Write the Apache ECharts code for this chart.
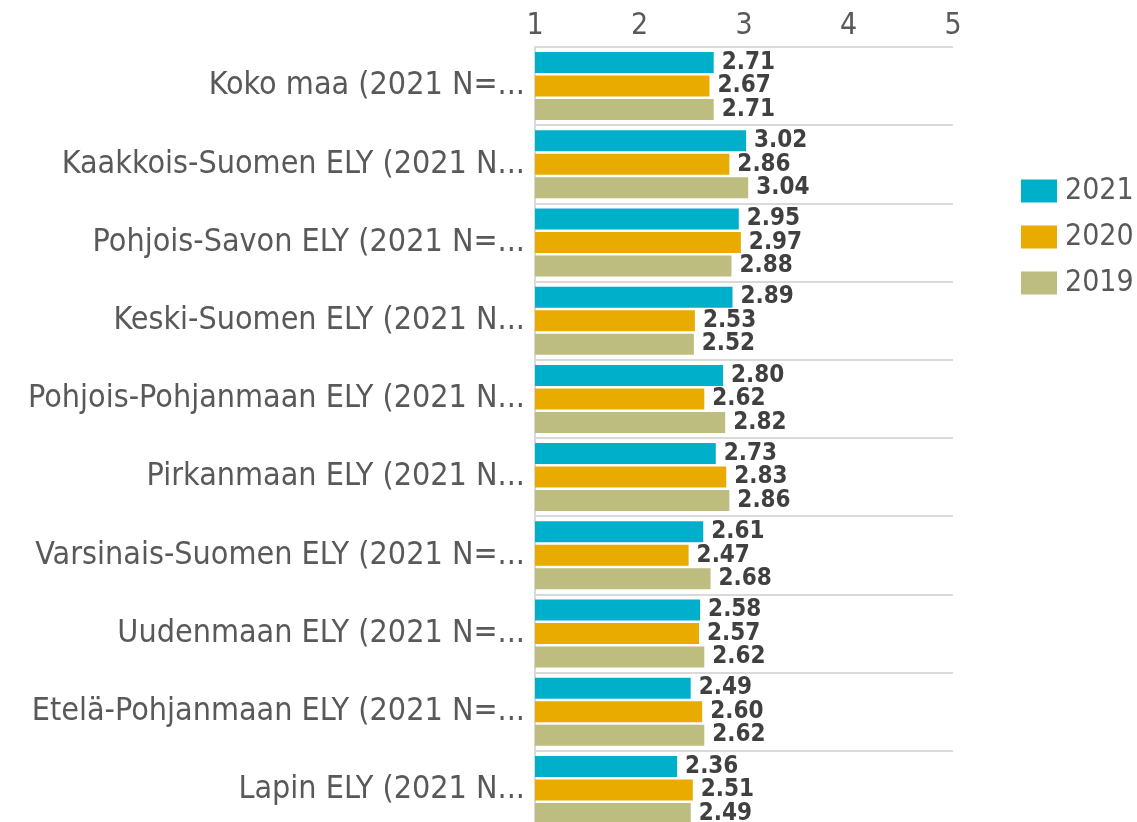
<!DOCTYPE html>
<html>
<head>
<meta charset="utf-8">
<script src="https://cdn.jsdelivr.net/npm/echarts@6/dist/echarts.min.js"></script>
<style>
  html, body { margin: 0; padding: 0; background: #fff; overflow: hidden; }
  #chart { width: 1137px; height: 829px; }
</style>
</head>
<body>
<div id="chart"></div>
<script>
const categories = [
  'Koko maa (2021 N=...',
  'Kaakkois-Suomen ELY (2021 N...',
  'Pohjois-Savon ELY (2021 N=...',
  'Keski-Suomen ELY (2021 N...',
  'Pohjois-Pohjanmaan ELY (2021 N...',
  'Pirkanmaan ELY (2021 N...',
  'Varsinais-Suomen ELY (2021 N=...',
  'Uudenmaan ELY (2021 N=...',
  'Etelä-Pohjanmaan ELY (2021 N=...',
  'Lapin ELY (2021 N...'
]
const values2021 = [2.71, 3.02, 2.95, 2.89, 2.80, 2.73, 2.61, 2.58, 2.49, 2.36]
const values2020 = [2.67, 2.86, 2.97, 2.53, 2.62, 2.83, 2.47, 2.57, 2.60, 2.51]
const values2019 = [2.71, 3.04, 2.88, 2.52, 2.82, 2.86, 2.68, 2.62, 2.62, 2.49]
const seriesNames = ['2021', '2020', '2019']
const colors = ['#00b0ca', '#e9ab00', '#bdbd80']

const fontFamily = "'DejaVu Sans Condensed', 'DejaVu Sans', sans-serif"

const makeSeries = (name, data, color) => ({
  name: name,
  type: 'bar',
  data: data,
  barWidth: 21,
  barGap: '12%',
  itemStyle: { color: color },
  label: {
    show: true,
    position: 'right',
    distance: 8,
    color: '#404040',
    fontFamily: fontFamily,
    fontWeight: 'bold',
    fontSize: 24,
    formatter: p => p.value.toFixed(2)
  }
})

const chart = echarts.init(document.getElementById('chart'))
chart.setOption({
  animation: false,
  color: colors,
  grid: { left: 535, right: 184, top: 47, bottom: 0 },
  legend: {
    orient: 'vertical',
    left: 1016,
    top: 171,
    itemWidth: 36,
    itemHeight: 23,
    itemGap: 16,
    icon: 'rect',
    textStyle: { color: '#595959', fontSize: 30, fontFamily: fontFamily, padding: [0, 0, 0, 3] },
    data: seriesNames
  },
  xAxis: {
    type: 'value',
    position: 'top',
    min: 1,
    max: 5,
    interval: 1,
    axisLine: { show: false },
    axisTick: { show: false },
    splitLine: { show: false },
    axisLabel: { color: '#595959', fontSize: 30, fontFamily: fontFamily, margin: 6 }
  },
  yAxis: {
    type: 'category',
    inverse: true,
    data: categories,
    axisLine: { show: true, lineStyle: { color: '#d9d9d9', width: 2 } },
    axisTick: { show: false },
    splitLine: { show: true, lineStyle: { color: '#d9d9d9', width: 2 } },
    axisLabel: { color: '#595959', fontSize: 32, fontFamily: fontFamily, margin: 10 }
  },
  series: [
    makeSeries(seriesNames[0], values2021, colors[0]),
    makeSeries(seriesNames[1], values2020, colors[1]),
    makeSeries(seriesNames[2], values2019, colors[2])
  ]
})
</script>
</body>
</html>
